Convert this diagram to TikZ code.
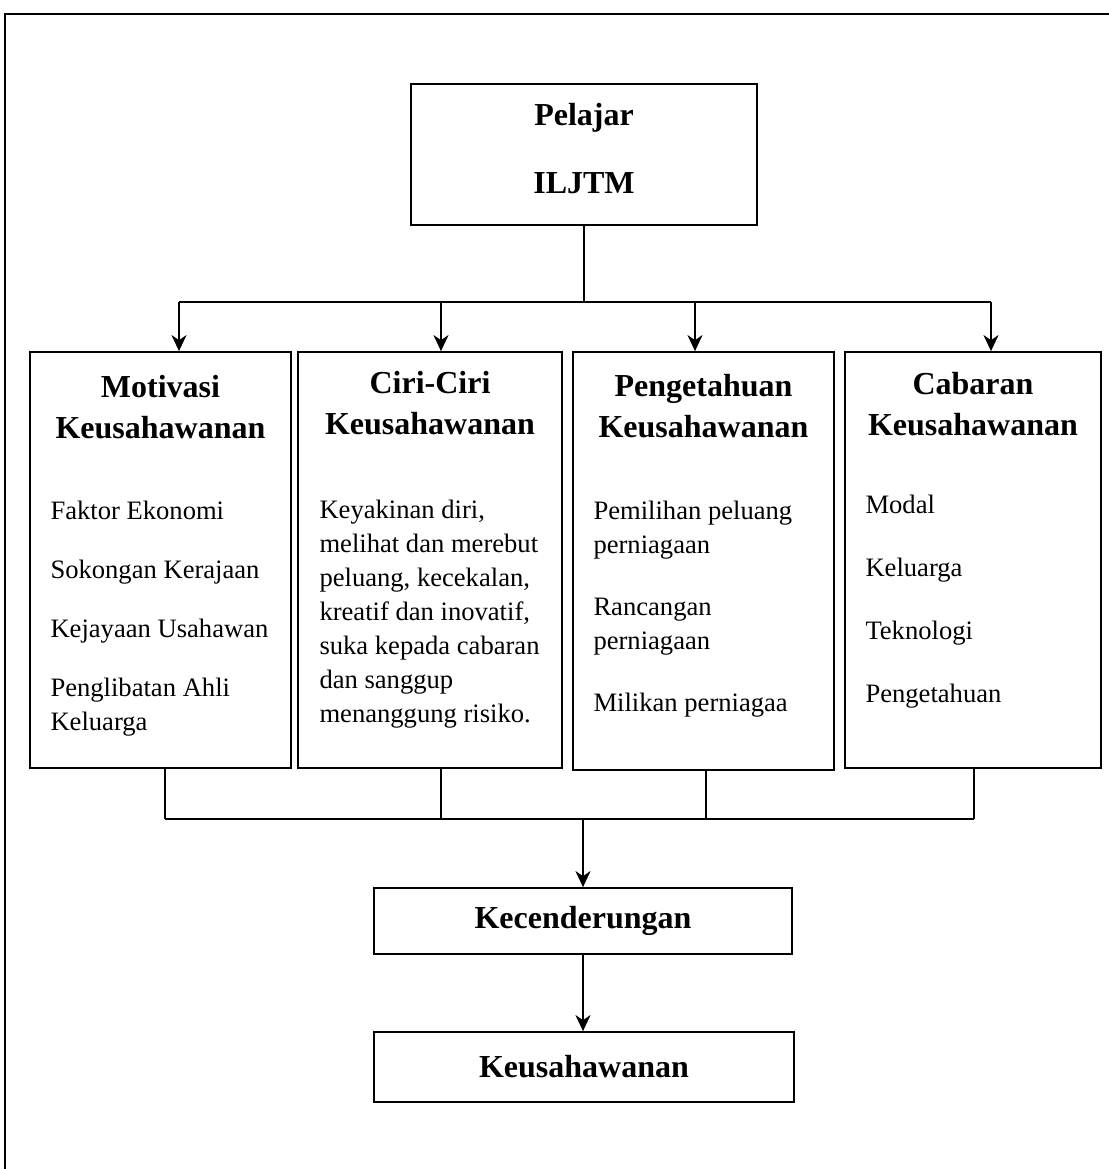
\documentclass[tikz,border=0pt]{standalone}
\usepackage{fontspec}
\setmainfont{Liberation Serif}
\usepackage{tikz}
\usetikzlibrary{shapes,arrows,arrows.meta}
\usetikzlibrary{calc}
\usetikzlibrary{positioning}
\tikzset{
    box/.style={draw, rectangle, line width=0.9pt, inner sep=0pt},
    head/.style={font=\bfseries\fontsize{16}{20.5}\selectfont, align=center, inner sep=0pt},
    items/.style={font=\fontsize{13.3}{17}\selectfont, align=left, inner sep=0pt},
    arr/.tip={Stealth[length=8pt,width=7.5pt,inset=2.5pt]}}

\begin{document}
\begin{tikzpicture}[x=0.5pt,y=-0.5pt]
\tikzstyle{conn}=[line width=0.75pt]
\useasboundingbox (0,0) rectangle (1109,1169);

%frame
\draw[line width=1pt] (5,1169) -- (5,14) -- (1109,14);

%boxes
\node[box, minimum width=173pt, minimum height=70.5pt] (pelajar) at (584,154.5) {};
\node[head, font=\bfseries\fontsize{16}{34}\selectfont] (pelajarT) at (584,149) {Pelajar\\ILJTM};

\node[box, minimum width=130.5pt, minimum height=208pt] (motiv) at (160.5,560) {};
\node[box, minimum width=132pt, minimum height=208pt] (ciri) at (430,560) {};
\node[box, minimum width=130.5pt, minimum height=209pt] (penget) at (703.5,561) {};
\node[box, minimum width=128pt, minimum height=208pt] (cabar) at (973,560) {};

\node[box, minimum width=209pt, minimum height=33pt, font=\bfseries\fontsize{16}{20}\selectfont] (kecend) at (583,921) {Kecenderungan};
\node[box, minimum width=210pt, minimum height=35pt, font=\bfseries\fontsize{16}{20}\selectfont] (keusa) at (584,1067) {Keusahawanan};

%titles
\node[head, below=12pt of motiv.north] (motivH) {Motivasi\\Keusahawanan};
\node[head, below=10pt of ciri.north] (ciriH) {Ciri-Ciri\\Keusahawanan};
\node[head, below=11.5pt of penget.north] (pengetH) {Pengetahuan\\Keusahawanan};
\node[head, below=10.5pt of cabar.north] (cabarH) {Cabaran\\Keusahawanan};

%lists
\node[items, below right=75pt and 10.5pt of motiv.north west] (motivL)
  {Faktor Ekonomi\\[12.5pt]Sokongan Kerajaan\\[12.5pt]Kejayaan Usahawan\\[12.5pt]Penglibatan Ahli\\Keluarga};
\node[items, below right=74.5pt and 11pt of ciri.north west] (ciriL)
  {Keyakinan diri,\\melihat dan merebut\\peluang, kecekalan,\\kreatif dan inovatif,\\suka kepada cabaran\\dan sanggup\\menanggung risiko.};
\node[items, below right=75pt and 10.5pt of penget.north west] (pengetL)
  {Pemilihan peluang\\perniagaan\\[14pt]Rancangan\\perniagaan\\[14pt]Milikan perniagaa};
\node[items, below right=72pt and 10.5pt of cabar.north west] (cabarL)
  {Modal\\[14.5pt]Keluarga\\[14.5pt]Teknologi\\[14.5pt]Pengetahuan};

%draw lines
\draw[conn] (pelajar.south) -- (pelajar.south |- 0,302);
\foreach \n/\x in {motiv/179,ciri/441,penget/695,cabar/991}{
  \coordinate (t\n) at (\x,302);
  \draw[conn,-arr] (t\n) -- (t\n |- \n.north);
}
\draw[conn] (tmotiv) -- (tcabar);

\foreach \n/\x in {motiv/165,ciri/441,penget/706,cabar/974}{
  \coordinate (b\n) at (\x,819);
  \draw[conn] (b\n |- \n.south) -- (b\n);
}
\draw[conn] (bmotiv) -- (bcabar);
\coordinate (join) at (583,819);
\draw[conn,-arr] (join) -- (join |- kecend.north);
\draw[conn,-arr] (kecend.south) -- (kecend.south |- keusa.north);

\end{tikzpicture}
\end{document}
